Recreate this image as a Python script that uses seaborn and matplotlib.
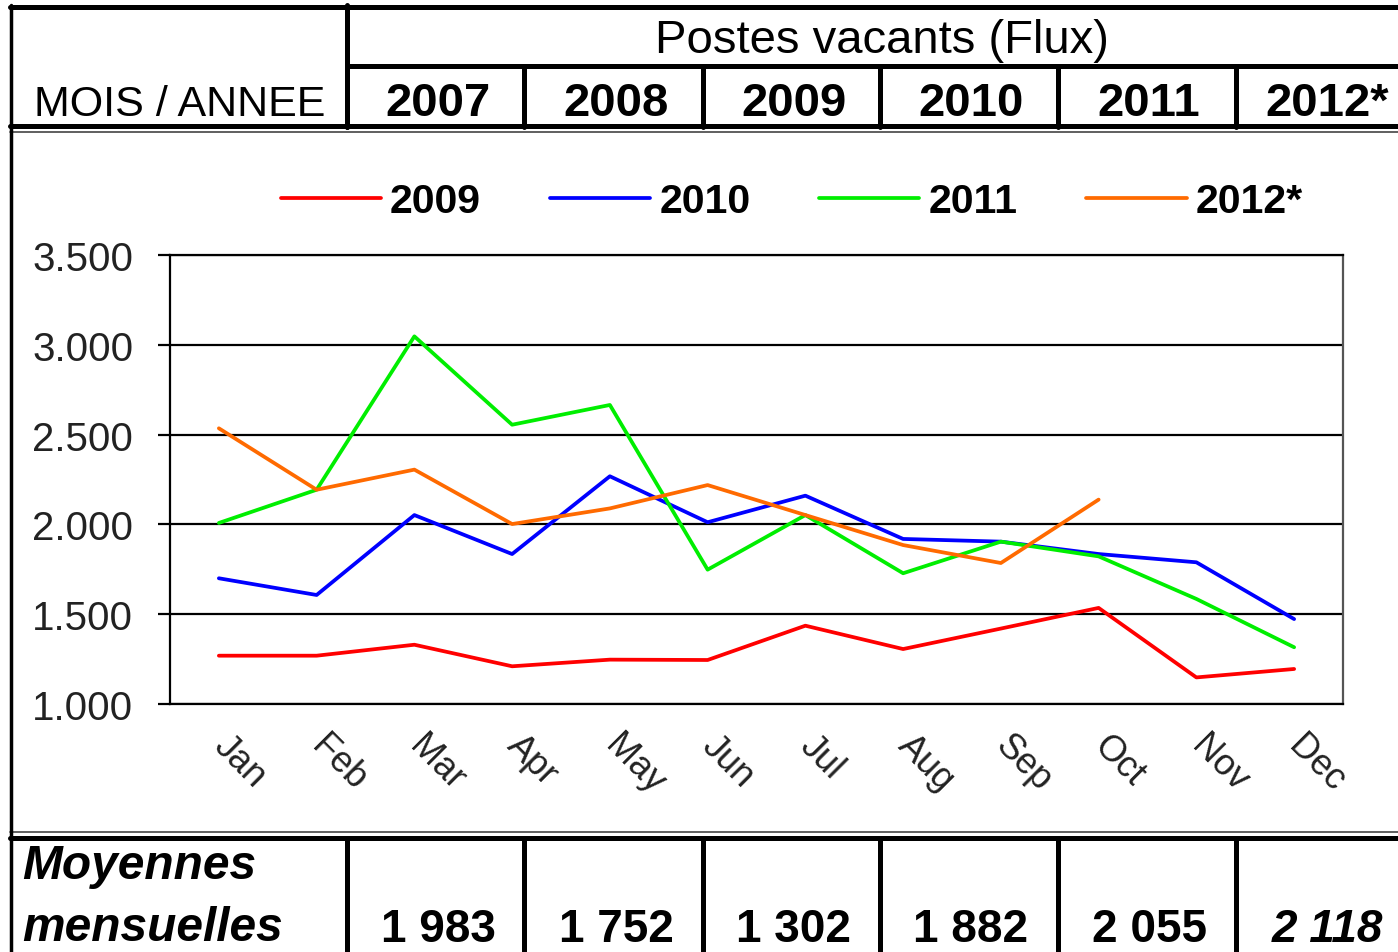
import matplotlib
matplotlib.use("Agg")
import matplotlib.pyplot as plt
import seaborn as sns
import pandas as pd
import numpy as np

sns.set_style("white")
plt.rcParams['font.family'] = ['Liberation Sans', 'DejaVu Sans']
plt.rcParams['text.color'] = 'black'

# monthly vacant posts (flow)
months = ["Jan", "Feb", "Mar", "Apr", "May", "Jun", "Jul", "Aug", "Sep", "Oct", "Nov", "Dec"]
v2009 = [1269, 1269, 1330, 1210, 1247, 1245, 1436, 1306, 1420, 1535, 1148, 1195]
v2010 = [1700, 1607, 2052, 1835, 2268, 2012, 2160, 1919, 1904, 1835, 1789, 1473]
v2011 = [2008, 2193, 3047, 2555, 2665, 1748, 2052, 1728, 1904, 1822, 1585, 1316]
v2012 = [2535, 2193, 2305, 2002, 2089, 2219, 2052, 1885, 1785, 2138, np.nan, np.nan]

series_names = ["2009", "2010", "2011", "2012*"]
series_colors = ["#ff0000", "#0000ff", "#00ee00", "#ff6a00"]

# table rows
years = ["2007", "2008", "2009", "2010", "2011", "2012*"]
averages = ["1 983", "1 752", "1 302", "1 882", "2 055", "2 118"]

df = pd.DataFrame({
    "month": months * 4,
    "idx": list(range(12)) * 4,
    "value": v2009 + v2010 + v2011 + v2012,
    "year": [n for n in series_names for _ in months],
})

W, H = 1398, 953
fig = plt.figure(figsize=(W / 100, H / 100), dpi=100)

# overlay axes in pixel coordinates for the table frame
ax0 = fig.add_axes([0, 0, 1, 1])
ax0.set_xlim(0, W)
ax0.set_ylim(H, 0)
ax0.axis("off")

thick = 3.6
col_x = [347, 524, 703, 880, 1058, 1236]
centers = [438, 616, 794, 971, 1149, 1327]

ax0.plot([10, W], [8, 8], color="black", lw=thick)
ax0.plot([347, W], [67, 67], color="black", lw=thick)
ax0.plot([10, W], [127, 127], color="black", lw=thick)
ax0.plot([10, W], [133, 133], color="#444444", lw=1.2)
ax0.plot([10, W], [833, 833], color="#444444", lw=1.2)
ax0.plot([10, W], [839, 839], color="black", lw=thick)
ax0.plot([11, 11], [6, H], color="black", lw=2.5)
ax0.plot([347, 347], [6, 128], color="black", lw=thick)
for x in col_x:
    ax0.plot([x, x], [67, 128], color="black", lw=thick)
    ax0.plot([x, x], [839, H], color="black", lw=thick)

ax0.text(180, 116, "MOIS / ANNEE", ha="center", va="baseline", fontsize=31)
ax0.text(882, 53, "Postes vacants (Flux)", ha="center", va="baseline", fontsize=34)
for c, y in zip(centers, years):
    ax0.text(c, 116, y, ha="center", va="baseline", fontsize=34, fontweight="bold")
ax0.text(22, 879, "Moyennes", ha="left", va="baseline", fontsize=34.5,
         fontweight="bold", fontstyle="italic")
ax0.text(22, 941, "mensuelles", ha="left", va="baseline", fontsize=34.5,
         fontweight="bold", fontstyle="italic")
for i, (c, a) in enumerate(zip(centers, averages)):
    ax0.text(c, 942, a, ha="center", va="baseline", fontsize=33, fontweight="bold",
             fontstyle="italic" if i == len(averages) - 1 else "normal")

# chart
ax = fig.add_axes([170 / W, (H - 705) / H, (1343 - 170) / W, (705 - 256) / H])
sns.lineplot(data=df, x="idx", y="value", hue="year",
             palette=dict(zip(series_names, series_colors)), lw=2.7, ax=ax)

ax.set_xlim(-0.5, 11.5)
ax.set_ylim(1000, 3500)
ax.set_yticks(np.arange(1000, 3501, 500))
ax.set_yticklabels([f"{int(v/1000)}.{int(v%1000):03d}" for v in np.arange(1000, 3501, 500)],
                   fontsize=29, color="#222222")
ax.yaxis.grid(True, color="black", lw=1.6)
ax.set_axisbelow(True)
ax.set_xticks(range(12))
ax.set_xticklabels(months, rotation=-45, ha="left", va="center",
                   rotation_mode="anchor", fontsize=26, color="#222222")
ax.set_xticks(np.arange(-0.5, 12, 1), minor=True)
ax.tick_params(axis="x", which="major", length=0, pad=26)
ax.tick_params(axis="x", which="minor", length=8, width=1.6, color="black", direction="out")
ax.tick_params(axis="y", length=8.5, width=1.6, color="black", direction="out", pad=18)
ax.tick_params(left=True, bottom=True)
for s in ax.spines.values():
    s.set_color("black")
    s.set_linewidth(1.6)
ax.spines["right"].set_color("#555555")
ax.set_xlabel("")
ax.set_ylabel("")

handles, labels = ax.get_legend_handles_labels()
ax.legend(handles, labels, loc="lower center", bbox_to_anchor=(0.53, 0.995), ncol=4,
          frameon=False, handlelength=2.45, handletextpad=0.22, columnspacing=1.68,
          prop={"size": 29.5, "weight": "bold"})

fig.savefig("out.png", dpi=100, facecolor="white")
